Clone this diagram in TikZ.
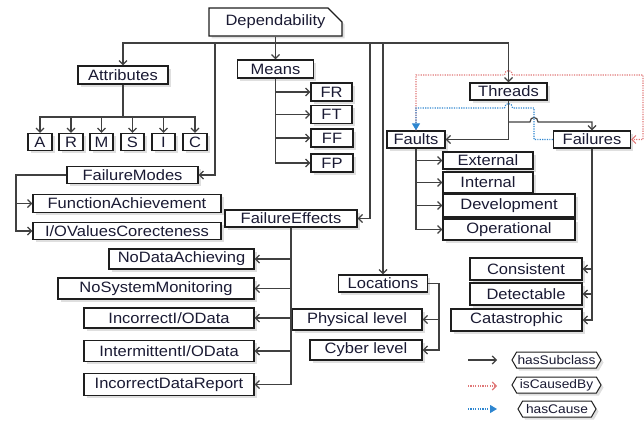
\documentclass[tikz,border=0pt]{standalone}
\usepackage{fontspec}
\setmainfont[FakeStretch=1.1]{Liberation Sans}
\usetikzlibrary{arrows.meta,shadows,shapes.misc,shapes.symbols}
\definecolor{ln}{HTML}{404040}
\definecolor{bx}{HTML}{1E1E1E}
\definecolor{tx}{HTML}{1A1A33}
\definecolor{rd}{HTML}{E07878}
\definecolor{bl}{HTML}{2E86D0}
\begin{document}
\begin{tikzpicture}[x=1pt,y=-1pt,
  box/.style={draw=bx, line width=1.3pt, fill=white, inner sep=0pt, text=tx,
    font=\fontsize{15}{16}\selectfont,
    drop shadow={shadow xshift=2.5pt, shadow yshift=-2.5pt, fill=black!25}},
  sz/.style 2 args={minimum width=#1pt, minimum height=#2pt},
  leg/.style={box, shape=signal, signal to=west and east, signal pointer angle=120,
    font=\fontsize{12.5}{14}\selectfont, line width=1pt},
  arr/.style={draw=ln, line width=1.2pt, -{Straight Barb[length=4pt,width=8pt]}},
  redarr/.style={draw=rd, line width=1.1pt, dash pattern=on 1.2pt off 1.2pt, -{Straight Barb[length=4pt,width=8pt]}},
  bluearr/.style={draw=bl, line width=1.1pt, dash pattern=on 1.2pt off 1.2pt, -{Triangle[length=7pt,width=8pt]}}
]
\useasboundingbox (0,0) rectangle (644,423);

% nodes
\node[box, sz={133}{18}, shape=chamfered rectangle, chamfered rectangle corners=north east,
  chamfered rectangle xsep=8pt, chamfered rectangle ysep=7pt] (dep) at (275.5,22) {Dependability};
\node[box, sz={90}{18}] (att) at (123,75) {Attributes};
\node[box, sz={24}{17}] (A) at (40,142) {A};
\node[box, sz={24}{17}] (R) at (71,142) {R};
\node[box, sz={23}{17}] (M) at (101.5,142) {M};
\node[box, sz={23}{17}] (S) at (132.5,142) {S};
\node[box, sz={23}{17}] (I) at (163.5,142) {I};
\node[box, sz={24}{17}] (C) at (195,142) {C};
\node[box, sz={76}{18}] (means) at (275.5,69) {Means};
\node[box, sz={41}{18}] (FR) at (331.5,92) {FR};
\node[box, sz={41}{18}] (FT) at (331.5,114.5) {FT};
\node[box, sz={42}{18}] (FF) at (332,138) {FF};
\node[box, sz={42}{18}] (FP) at (332,163) {FP};
\node[box, sz={131}{17}] (fmodes) at (132.5,175) {FailureModes};
\node[box, sz={188}{18}] (func) at (127,203.5) {FunctionAchievement};
\node[box, sz={188}{17}] (io) at (127,231) {I/OValuesCorecteness};
\node[box, sz={132}{17}] (feff) at (291,218.5) {FailureEffects};
\node[box, sz={145}{20}] (nodata) at (181.5,259) {NoDataAchieving};
\node[box, sz={196}{21}] (nosys) at (156,288.5) {NoSystemMonitoring};
\node[box, sz={170}{20}] (incio) at (169,318) {IncorrectI/OData};
\node[box, sz={170}{21}] (interio) at (169,351) {IntermittentI/OData};
\node[box, sz={170}{22}] (incdr) at (169,384.5) {IncorrectDataReport};
\node[box, sz={89}{17}] (loc) at (383,283.5) {Locations};
\node[box, sz={130}{21}] (phys) at (357,319.5) {Physical level};
\node[box, sz={112}{20}] (cyber) at (366,350) {Cyber level};
\node[box, sz={77}{17}] (threads) at (508.5,91.5) {Threads};
\node[box, sz={58}{17}] (faults) at (416,139.5) {Faults};
\node[box, sz={77}{17}] (failures) at (592,139.5) {Failures};
\node[box, sz={90}{17}] (external) at (488,160.5) {External};
\node[box, sz={90}{21}] (internal) at (488,182.5) {Internal};
\node[box, sz={132}{23}] (devel) at (509,205.5) {Development};
\node[box, sz={132}{21}] (oper) at (509,229.5) {Operational};
\node[box, sz={112}{22}] (consistent) at (526,269) {Consistent};
\node[box, sz={112}{22}] (detect) at (526,294) {Detectable};
\node[box, sz={131}{22}] (catas) at (516.5,320) {Catastrophic};

% legend
\node[leg, sz={89}{16}] (lsub) at (556.5,360) {hasSubclass};
\node[leg, sz={89}{16}] (lcaus) at (556.5,385) {isCausedBy};
\node[leg, sz={78}{16}] (lcause) at (557,409) {hasCause};
\coordinate (l1a) at (468,360); \coordinate (l1b) at (497,360);
\coordinate (l2a) at (468,386); \coordinate (l2b) at (497,386);
\coordinate (l3a) at (468,409); \coordinate (l3b) at (497,409);
\draw[arr] (l1a) -- (l1b);
\draw[redarr] (l2a) -- (l2b);
\draw[bluearr] (l3a) -- (l3b);

% coordinates
\coordinate (bar) at (275.5,43);
\coordinate (b1) at (215,43);
\coordinate (b2) at (370,43);
\coordinate (b3) at (383,43);
\coordinate (ab) at (123,117);
\coordinate (fm) at (16,175);
\coordinate (lc) at (439,283.5);
\coordinate (tf) at (508.5,122);

% hasSubclass connectors
\draw[arr] (dep.south) -- (means.north);
\draw[arr] (bar) -| (att.north);
\draw[arr] (bar) -| (threads.north);
\draw[arr] (b1) |- (fmodes.east);
\draw[arr] (b2) |- (feff.east);
\draw[arr] (b3) -- (loc.north);

\foreach \n in {A,R,M,S,I,C} \draw[arr] (att.south) -- (ab) -| (\n.north);
\foreach \n in {FR,FT,FF,FP} \draw[arr] (means.south) |- (\n.west);
\foreach \n in {func,io} \draw[arr] (fmodes.west) -- (fm) |- (\n.west);
\foreach \n in {nodata,nosys,incio,interio,incdr} \draw[arr] (feff.south) |- (\n.east);
\foreach \n in {phys,cyber} \draw[arr] (loc.east) -- (lc) |- (\n.east);
\foreach \n in {external,internal,devel,oper} \draw[arr] (faults.south) |- (\n.west);
\foreach \n in {consistent,detect,catas} \draw[arr] (failures.south) |- (\n.east);

\draw[arr] (threads.south) |- (faults.east);
\draw[arr] (tf) -- (530,122) .. controls (530,116) and (538,116) .. (538,122) -| (failures.north);

% isCausedBy
\draw[redarr] (faults.north) -- (416,75) -- (504.5,75) .. controls (504.5,69) and (512.5,69) .. (512.5,75) -- (643,75) |- (failures.east);
% hasCause
\draw[bluearr] (failures.west) -- (534,139.5) -- (534,108) -- (512.5,108) .. controls (512.5,102) and (504.5,102) .. (504.5,108) -- (416,108) -- (faults.north);
\end{tikzpicture}
\end{document}
